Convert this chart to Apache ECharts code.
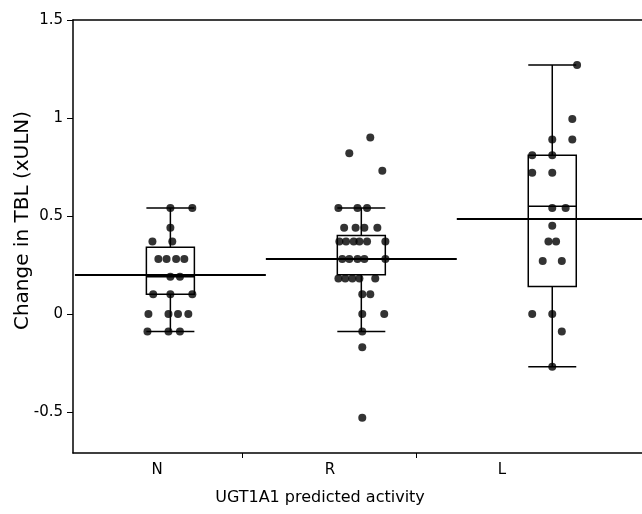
<!DOCTYPE html>
<html>
<head>
<meta charset="utf-8">
<script src="https://cdn.jsdelivr.net/npm/echarts@6/dist/echarts.min.js"></script>
<style>
  html, body { margin: 0; padding: 0; background: #fff; }
  #chart { width: 642px; height: 514px; }
</style>
</head>
<body>
<div id="chart"></div>
<script>
// groups on the x axis
const categories = ['N', 'R', 'L'];

// box stats per group: [min, Q1, median, Q3, max]
const boxStats = [
    [-0.09, 0.10, 0.19, 0.34, 0.54],
    [-0.09, 0.20, 0.28, 0.40, 0.54],
    [-0.27, 0.14, 0.55, 0.81, 1.27]
];

// group means (long horizontal lines)
const groupMeans = [0.20, 0.28, 0.485];

// individual patients: [horizontal jitter, change in TBL]
const pointsN = [
    [0, 0.54], [0.115, 0.54], [0, 0.44], [-0.094, 0.37], [0.01, 0.37],
    [-0.063, 0.28], [-0.02, 0.28], [0.03, 0.28], [0.073, 0.28],
    [0, 0.19], [0.05, 0.19], [-0.09, 0.10], [0, 0.10], [0.115, 0.10],
    [-0.115, 0], [-0.01, 0], [0.04, 0], [0.094, 0],
    [-0.12, -0.09], [-0.01, -0.09], [0.05, -0.09]
];
const pointsR = [
    [0.047, 0.90], [-0.063, 0.82], [0.11, 0.73],
    [-0.12, 0.54], [-0.02, 0.54], [0.03, 0.54],
    [-0.09, 0.44], [-0.03, 0.44], [0.016, 0.44], [0.084, 0.44],
    [-0.115, 0.37], [-0.08, 0.37], [-0.04, 0.37], [-0.01, 0.37], [0.03, 0.37], [0.126, 0.37],
    [-0.1, 0.28], [-0.063, 0.28], [-0.02, 0.28], [0.016, 0.28], [0.126, 0.28],
    [-0.12, 0.18], [-0.084, 0.18], [-0.047, 0.18], [-0.01, 0.18], [0.073, 0.18],
    [0.005, 0.10], [0.047, 0.10], [0.005, 0], [0.12, 0],
    [0.005, -0.09], [0.005, -0.17], [0.005, -0.53]
];
const pointsL = [
    [0.13, 1.27], [0.105, 0.995], [0, 0.89], [0.105, 0.89],
    [-0.105, 0.81], [0, 0.81], [-0.105, 0.72], [0, 0.72],
    [0, 0.54], [0.07, 0.54], [0, 0.45], [-0.02, 0.37], [0.02, 0.37],
    [-0.05, 0.27], [0.05, 0.27], [-0.105, 0], [0, 0], [0.05, -0.09], [0, -0.27]
];

// y tick labels
const yTicks = [-0.5, 0, 0.5, 1, 1.5];

const groupPoints = [pointsN, pointsR, pointsL];

// positions of the category labels / separators along the x scale
const labelPos = [0.93, 1.836, 2.736];
const sepPos = [1.375, 2.29];
const xMin = 0.49, xMax = 3.47;

const boxData = boxStats.map((s, i) => [i + 1].concat(s));
const dots = [];
groupPoints.forEach((pts, i) => {
    pts.forEach(p => dots.push([i + 1 + p[0], p[1]]));
});
const meanLines = groupMeans.map((m, i) => [
    { coord: [i + 0.5, m] },
    { coord: [Math.min(i + 1.5, xMax), m] }
]);

const chart = echarts.init(document.getElementById('chart'));
const font = 'DejaVu Sans';
const black = { color: '#000', width: 1.5 };

chart.setOption({
    animation: false,
    backgroundColor: '#fff',
    grid: { left: 73, top: 20, right: 0, bottom: 61, containLabel: false, outerBoundsMode: 'none' },
    xAxis: [
        {
            type: 'value',
            min: xMin,
            max: xMax,
            splitLine: { show: false },
            axisLine: { show: true, onZero: false, lineStyle: black },
            axisTick: { show: true, customValues: sepPos, length: 5, lineStyle: { color: '#000' } },
            axisLabel: {
                customValues: labelPos,
                margin: 10,
                color: '#000',
                fontFamily: font,
                fontSize: 15,
                formatter: function (v) {
                    const idx = labelPos.findIndex(p => Math.abs(p - v) < 1e-6);
                    return idx >= 0 ? categories[idx] : '';
                }
            }
        },
        {
            // top frame line only
            type: 'value',
            position: 'top',
            min: xMin,
            max: xMax,
            splitLine: { show: false },
            axisLine: { show: true, onZero: false, lineStyle: black },
            axisTick: { show: false },
            axisLabel: { show: false }
        }
    ],
    yAxis: {
        type: 'value',
        min: -0.71,
        max: 1.5,
        name: 'Change in TBL (xULN)',
        nameLocation: 'middle',
        nameGap: 40,
        nameMoveOverlap: false,
        nameTextStyle: { color: '#000', fontFamily: font, fontSize: 20, padding: [0, 0, 0, 32] },
        splitLine: { show: false },
        axisLine: { show: true, lineStyle: black },
        axisTick: { show: true, customValues: yTicks, length: 6, lineStyle: { color: '#000' } },
        axisLabel: {
            customValues: yTicks,
            margin: 10,
            color: '#000',
            fontFamily: font,
            fontSize: 15
        }
    },
    graphic: [{
        type: 'text',
        x: 320,
        y: 498,
        style: {
            text: 'UGT1A1 predicted activity',
            fill: '#000',
            font: '16px "DejaVu Sans"',
            align: 'center',
            verticalAlign: 'middle'
        }
    }],
    series: [
        {
            type: 'boxplot',
            data: boxData,
            boxWidth: [48, 48],
            itemStyle: { color: 'rgba(0,0,0,0)', borderColor: '#000', borderWidth: 1.5 },
            z: 2
        },
        {
            type: 'scatter',
            data: dots,
            symbol: 'circle',
            symbolSize: 8,
            itemStyle: { color: '#000' },
            z: 3,
            markLine: {
                silent: true,
                symbol: 'none',
                label: { show: false },
                lineStyle: { color: '#000', width: 2, type: 'solid' },
                data: meanLines
            }
        }
    ]
});
</script>
</body>
</html>
